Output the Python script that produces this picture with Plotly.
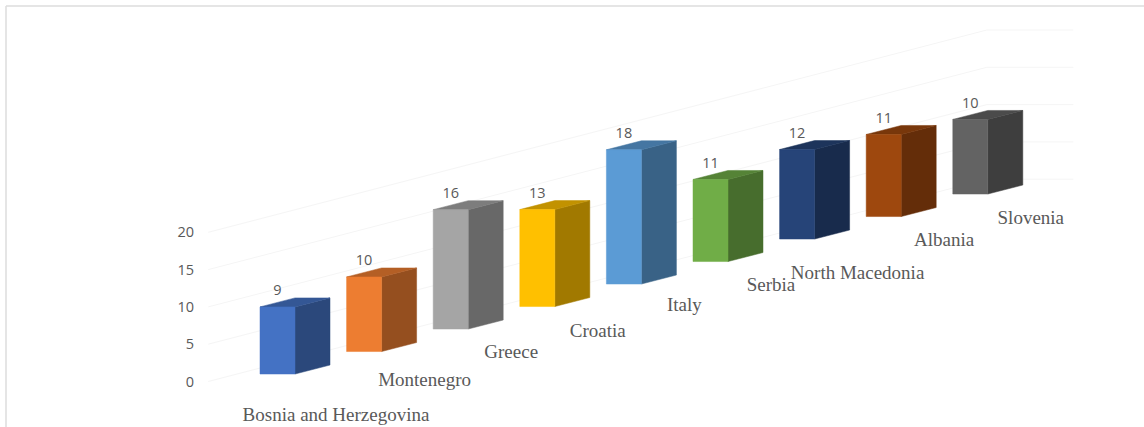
import plotly.graph_objects as go

# ---- data ----
categories = ["Bosnia and Herzegovina", "Montenegro", "Greece", "Croatia", "Italy",
              "Serbia", "North Macedonia", "Albania", "Slovenia"]
values = [9, 10, 16, 13, 18, 11, 12, 11, 10]
y_ticks = [0, 5, 10, 15, 20]
front_colors = ["#4472C4", "#ED7D31", "#A5A5A5", "#FFC000", "#5B9BD5",
                "#70AD47", "#264478", "#9E480E", "#636363"]

# ---- style / oblique geometry ----
W, H = 1144, 427
LEFT = 195
PX_PER_UNIT = 7.46
PX_PER_CAT = 86.6
X_ZERO_PX = 277.5      # pixel of category 0 centre
Y_ZERO_PX = 381.5      # pixel of value 0 on the axis
SHEAR = 22.5 / PX_PER_UNIT          # value-units climbed per category
BASE_LIFT = 1.0                     # bar floor above the axis zero at category 0
BAR_W = 35 / PX_PER_CAT
DEPTH_X = 35 / PX_PER_CAT
DEPTH_Y = 9 / PX_PER_UNIT
GRID_START, GRID_BEND, GRID_END = -0.80, 8.19, 9.19
SIDE_SHADE, TOP_SHADE = 0.63, 0.76
LABEL_DX = [58.5, 60.5, 60.5, 60.5, 60.5, 60.5, 60.5, 60.5, 60.5]   # px right of bar centre
LABEL_DROP = [42.5, 30, 24.5, 25.5, 22.5, 24.5, 35, 25, 25.5]       # px below bar foot
VALUE_RAISE = 15.5 / PX_PER_UNIT


def shade(hex_color, k):
    r, g, b = (int(hex_color[j:j + 2], 16) for j in (1, 3, 5))
    return f"rgb({round(r * k)},{round(g * k)},{round(b * k)})"


def foot(i):
    return BASE_LIFT + SHEAR * i


fig = go.Figure()

# sheared gridlines of the back wall
for t in y_ticks:
    top = t + (GRID_BEND - GRID_START) * SHEAR
    fig.add_trace(go.Scatter(
        x=[GRID_START, GRID_BEND, GRID_END],
        y=[t, top, top],
        mode="lines", line=dict(color="#f5f5f5", width=1),
        hoverinfo="skip", showlegend=False))


def face(xs, ys, color, name):
    fig.add_trace(go.Scatter(
        x=xs + xs[:1], y=ys + ys[:1], mode="lines", fill="toself",
        fillcolor=color, line=dict(color=color, width=0.5),
        name=name, hoverinfo="name", showlegend=False))


for i, (cat, v, c) in enumerate(zip(categories, values, front_colors)):
    xl, xr = i - BAR_W / 2, i + BAR_W / 2
    y0 = foot(i)
    y1 = y0 + v
    # side
    face([xr, xr + DEPTH_X, xr + DEPTH_X, xr],
         [y0, y0 + DEPTH_Y, y1 + DEPTH_Y, y1], shade(c, SIDE_SHADE), cat)
    # top
    face([xl, xr, xr + DEPTH_X, xl + DEPTH_X],
         [y1, y1, y1 + DEPTH_Y, y1 + DEPTH_Y], shade(c, TOP_SHADE), cat)
    # front
    face([xl, xr, xr, xl], [y0, y0, y1, y1], c, cat)

idx = list(range(len(categories)))

# value labels
fig.add_trace(go.Scatter(
    x=idx, y=[foot(i) + v + VALUE_RAISE for i, v in zip(idx, values)],
    mode="text", text=[str(v) for v in values], textposition="middle center",
    textfont=dict(family="Open Sans", size=14.5, color="#595959"),
    hoverinfo="skip", showlegend=False, cliponaxis=False))

# category labels
fig.add_trace(go.Scatter(
    x=[i + dx / PX_PER_CAT for i, dx in zip(idx, LABEL_DX)],
    y=[foot(i) - d / PX_PER_UNIT for i, d in zip(idx, LABEL_DROP)],
    mode="text", text=categories, textposition="middle center",
    textfont=dict(family="Liberation Serif", size=19, color="#595959"),
    hoverinfo="skip", showlegend=False, cliponaxis=False))

fig.update_layout(
    width=W, height=H,
    margin=dict(l=LEFT, r=0, t=0, b=0),
    paper_bgcolor="white", plot_bgcolor="white",
    xaxis=dict(visible=False,
               range=[(LEFT - X_ZERO_PX) / PX_PER_CAT, (W - X_ZERO_PX) / PX_PER_CAT]),
    yaxis=dict(range=[(Y_ZERO_PX - H) / PX_PER_UNIT, Y_ZERO_PX / PX_PER_UNIT],
               tickmode="array", tickvals=y_ticks, ticktext=[str(t) for t in y_ticks],
               tickfont=dict(family="Open Sans", size=14.5, color="#595959"),
               showgrid=False, zeroline=False, showline=False, ticks=""),
    shapes=[
        dict(type="line", xref="paper", yref="paper",
             x0=(6 - LEFT) / (W - LEFT), x1=1, y0=1 - 6 / H, y1=1 - 6 / H,
             line=dict(color="#dcdcdc", width=1.5)),
        dict(type="line", xref="paper", yref="paper",
             x0=(6 - LEFT) / (W - LEFT), x1=(6 - LEFT) / (W - LEFT), y0=0, y1=1 - 6 / H,
             line=dict(color="#dcdcdc", width=1.5)),
    ],
)

fig.write_html("out.html", config={"displayModeBar": False},
               post_script="document.body.style.margin='0';document.documentElement.style.overflow='hidden';")
